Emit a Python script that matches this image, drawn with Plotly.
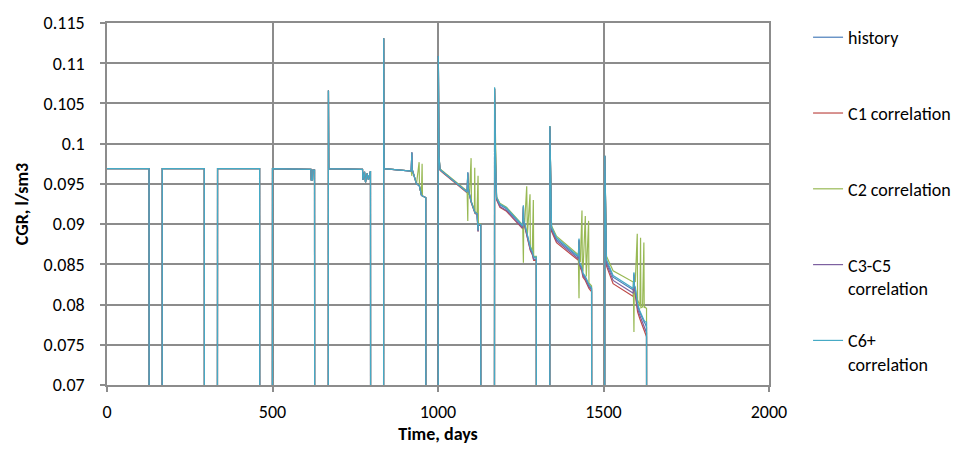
import plotly.graph_objects as go

# ---------------- data ----------------
days = ([0, 127, 128, 166, 167, 294, 295, 333, 334, 461, 462, 499, 500, 616, 617, 621, 622, 627, 628,
         668, 669, 670, 772, 773, 778, 781, 786, 790, 796, 797, 835, 836, 837]
        + [919, 921, 922, 928, 935, 943, 944, 950, 952, 953, 963, 964]
        + [1000, 1001, 1003, 1006, 1011, 1088, 1090, 1091, 1095, 1100, 1101, 1110, 1111, 1112, 1118, 1121, 1122, 1129, 1130]
        + [1170, 1171, 1174, 1177, 1187, 1207, 1256, 1258, 1259, 1262, 1268, 1269, 1270, 1278, 1279, 1285, 1288, 1289, 1297, 1298]
        + [1337, 1338, 1343, 1358, 1424, 1426, 1427, 1430, 1435, 1436, 1438, 1445, 1446, 1448, 1455, 1456, 1460, 1464, 1465]
        + [1503, 1504, 1509, 1529, 1590, 1592, 1593, 1596, 1602, 1603, 1610, 1612, 1613, 1618, 1622, 1623, 1625, 1630, 1631])

# early period (identical for all series)
early_cgr = [0.0969, 0.0969, 0, 0, 0.0969, 0.0969, 0, 0, 0.0969, 0.0969, 0, 0, 0.0969, 0.0968, 0.0955, 0.0955, 0.0967, 0.0967, 0,
             0, 0.1066, 0.0969, 0.0968, 0.0955, 0.0965, 0.0952, 0.0963, 0.0955, 0.0966, 0, 0, 0.1131, 0.0969]

history = (early_cgr
           + [0.0966, 0.0989, 0.0968, 0.0958, 0.0950, 0.0948, 0.0947, 0.0936, 0.0935, 0.0935, 0.0933, 0]
           + [0, 0.1109, 0.0985, 0.0968, 0.0966, 0.0940, 0.0964, 0.0945, 0.0935, 0.0928, 0.0927, 0.0916, 0.0915, 0.0914, 0.0913, 0.0892, 0.0900, 0.0899, 0]
           + [0, 0.1069, 0.0977, 0.0932, 0.0924, 0.0919, 0.0897, 0.0923, 0.0905, 0.0900, 0.0890, 0.0888, 0.0885, 0.0871, 0.0870, 0.0865, 0.0858, 0.0858, 0.0858, 0]
           + [0, 0.1022, 0.0895, 0.0881, 0.0859, 0.0881, 0.0852, 0.0850, 0.0845, 0.0842, 0.0838, 0.0834, 0.0833, 0.0832, 0.0825, 0.0824, 0.0822, 0.0820, 0]
           + [0, 0.0985, 0.0854, 0.0834, 0.0818, 0.0839, 0.0822, 0.0820, 0.0800, 0.0799, 0.0790, 0.0788, 0.0787, 0.0781, 0.0779, 0.0778, 0.0777, 0.0772, 0])

c1_corr = (early_cgr
           + [0.0966, 0.0989, 0.0968, 0.0958, 0.0950, 0.0948, 0.0947, 0.0936, 0.0935, 0.0935, 0.0933, 0]
           + [0, 0.1109, 0.0984, 0.0967, 0.0965, 0.0939, 0.0963, 0.0944, 0.0934, 0.0927, 0.0926, 0.0915, 0.0914, 0.0913, 0.0912, 0.0891, 0.0899, 0.0898, 0]
           + [0, 0.1068, 0.0975, 0.0930, 0.0921, 0.0916, 0.0894, 0.0921, 0.0902, 0.0897, 0.0887, 0.0885, 0.0882, 0.0868, 0.0867, 0.0862, 0.0855, 0.0855, 0.0855, 0]
           + [0, 0.1021, 0.0891, 0.0877, 0.0855, 0.0878, 0.0848, 0.0846, 0.0841, 0.0838, 0.0834, 0.0830, 0.0829, 0.0828, 0.0821, 0.0820, 0.0818, 0.0816, 0]
           + [0, 0.0984, 0.0848, 0.0826, 0.0810, 0.0834, 0.0814, 0.0812, 0.0792, 0.0791, 0.0782, 0.0780, 0.0779, 0.0772, 0.0769, 0.0768, 0.0766, 0.0760, 0])

c2_corr = (early_cgr
           + [0.0966, 0.0960, 0.0968, 0.0958, 0.0950, 0.0977, 0.0947, 0.0936, 0.0975, 0.0935, 0.0933, 0]
           + [0, 0.1108, 0.0986, 0.0969, 0.0967, 0.0941, 0.0904, 0.0946, 0.0936, 0.0982, 0.0928, 0.0917, 0.0970, 0.0915, 0.0914, 0.0960, 0.0901, 0.0900, 0]
           + [0, 0.1069, 0.0979, 0.0934, 0.0926, 0.0921, 0.0899, 0.0852, 0.0907, 0.0902, 0.0947, 0.0890, 0.0887, 0.0937, 0.0872, 0.0867, 0.0930, 0.0860, 0.0860, 0]
           + [0, 0.1022, 0.0898, 0.0885, 0.0862, 0.0808, 0.0855, 0.0853, 0.0917, 0.0845, 0.0841, 0.0910, 0.0836, 0.0835, 0.0904, 0.0827, 0.0825, 0.0823, 0]
           + [0, 0.0985, 0.0860, 0.0842, 0.0828, 0.0766, 0.0830, 0.0828, 0.0888, 0.0806, 0.0798, 0.0883, 0.0796, 0.0797, 0.0877, 0.0796, 0.0797, 0.0795, 0])

c3_c5_corr = (early_cgr
              + [0.0966, 0.0989, 0.0968, 0.0958, 0.0950, 0.0948, 0.0947, 0.0936, 0.0935, 0.0935, 0.0933, 0]
              + [0, 0.1109, 0.0985, 0.0968, 0.0966, 0.0940, 0.0964, 0.0945, 0.0935, 0.0928, 0.0927, 0.0916, 0.0915, 0.0914, 0.0913, 0.0891, 0.0900, 0.0899, 0]
              + [0, 0.1068, 0.0976, 0.0931, 0.0922, 0.0917, 0.0895, 0.0922, 0.0903, 0.0898, 0.0888, 0.0886, 0.0883, 0.0869, 0.0868, 0.0863, 0.0856, 0.0856, 0.0856, 0]
              + [0, 0.1021, 0.0893, 0.0879, 0.0857, 0.0880, 0.0850, 0.0848, 0.0843, 0.0840, 0.0836, 0.0832, 0.0831, 0.0830, 0.0823, 0.0822, 0.0820, 0.0818, 0]
              + [0, 0.0985, 0.0851, 0.0830, 0.0814, 0.0837, 0.0818, 0.0816, 0.0796, 0.0795, 0.0786, 0.0784, 0.0783, 0.0776, 0.0773, 0.0772, 0.0770, 0.0765, 0])

c6_corr = (early_cgr
           + [0.0966, 0.0989, 0.0968, 0.0958, 0.0950, 0.0948, 0.0947, 0.0936, 0.0935, 0.0935, 0.0933, 0]
           + [0, 0.1109, 0.0985, 0.0968, 0.0966, 0.0940, 0.0964, 0.0945, 0.0935, 0.0928, 0.0927, 0.0916, 0.0915, 0.0914, 0.0913, 0.0892, 0.0900, 0.0899, 0]
           + [0, 0.1070, 0.0977, 0.0933, 0.0925, 0.0920, 0.0898, 0.0923, 0.0906, 0.0901, 0.0891, 0.0889, 0.0886, 0.0872, 0.0871, 0.0866, 0.0859, 0.0859, 0.0859, 0]
           + [0, 0.1022, 0.0896, 0.0883, 0.0860, 0.0882, 0.0853, 0.0851, 0.0846, 0.0843, 0.0839, 0.0835, 0.0834, 0.0833, 0.0826, 0.0825, 0.0823, 0.0821, 0]
           + [0, 0.0985, 0.0856, 0.0836, 0.0820, 0.0840, 0.0824, 0.0822, 0.0802, 0.0801, 0.0792, 0.0790, 0.0789, 0.0783, 0.0781, 0.0780, 0.0779, 0.0778, 0])

series_names = ["history<br>\u00a0", "C1 correlation<br>\u00a0", "C2 correlation<br>\u00a0",
                "C3-C5<br>correlation", "C6+<br>correlation"]
series_colors = ["#4a7ebb", "#be4b48", "#98b954", "#7d60a0", "#46aac5"]

y_tickvals = [0.07, 0.075, 0.08, 0.085, 0.09, 0.095, 0.1, 0.105, 0.11, 0.115]
y_ticktext = ["0.07", "0.075", "0.08", "0.085", "0.09", "0.095", "0.1", "0.105", "0.11", "0.115"]
x_tickvals = [0, 500, 1000, 1500, 2000]
x_ticktext = ["0", "500", "1000", "1500", "2000"]

# ---------------- figure ----------------
FONT = "Carlito, Lato, sans-serif"
GRID = "#8c8c8c"
FS = 18

fig = go.Figure()
all_series = [history, c1_corr, c2_corr, c3_c5_corr, c6_corr]
for i, (name, vals, col) in enumerate(zip(series_names, all_series, series_colors)):
    assert len(vals) == len(days)
    fig.add_trace(go.Scatter(x=days, y=vals, mode="lines", name=name,
                             line=dict(color=col, width=1.2), legendgroup=f"g{i}"))

fig.update_layout(
    width=973, height=450,
    margin=dict(l=107, r=204, t=17, b=63),
    paper_bgcolor="white", plot_bgcolor="white",
    font=dict(family=FONT, size=FS, color="#000000"),
    showlegend=True,
    legend=dict(x=1.059, xanchor="left", y=1.011, yanchor="top",
                tracegroupgap=26, valign="top", maxheight=440,
                font=dict(family=FONT, size=FS, color="#000000"),
                bgcolor="rgba(0,0,0,0)"),
    xaxis=dict(range=[0, 2000], tickvals=x_tickvals, ticktext=x_ticktext,
               showgrid=True, gridcolor=GRID, gridwidth=1.5,
               showline=True, linecolor=GRID, linewidth=1.5, mirror=True,
               ticks="outside", ticklen=5, tickcolor=GRID, tickwidth=1.5,
               ticklabelstandoff=5, zeroline=False,
               title=dict(text="<b>Time, days</b>", standoff=2, font=dict(family=FONT, size=FS))),
    yaxis=dict(range=[0.07, 0.115], tickvals=y_tickvals, ticktext=y_ticktext,
               showgrid=True, gridcolor=GRID, gridwidth=1.5,
               showline=True, linecolor=GRID, linewidth=1.5, mirror=True,
               ticks="outside", ticklen=5, tickcolor=GRID, tickwidth=1.5,
               ticklabelstandoff=12, zeroline=False,
               title=dict(text="<b>CGR, l/sm3</b>", standoff=10, font=dict(family=FONT, size=FS))),
)

fig.write_html("out.html")
